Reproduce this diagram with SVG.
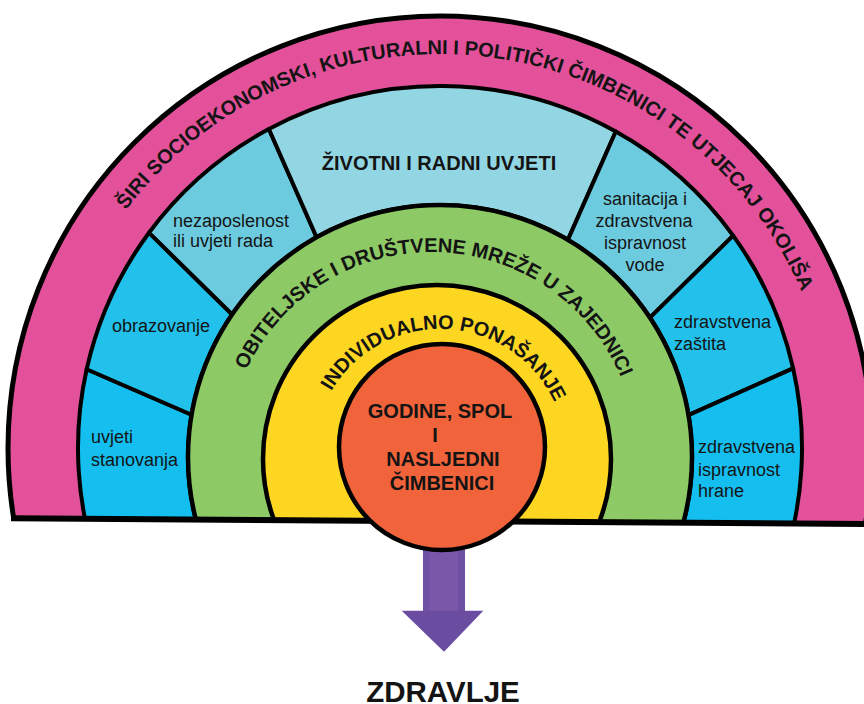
<svg xmlns="http://www.w3.org/2000/svg" width="864" height="704" viewBox="0 0 864 704">
<style>
text { font-family: "Liberation Sans", Arial, "DejaVu Sans", sans-serif; fill: #141414; }
.b { font-weight: bold; font-size: 20px; }
.s { font-size: 18px; }
.m { text-anchor: middle; }
.ring { stroke: #000; stroke-width: 4.5; }
.sec { stroke: #000; stroke-width: 4; stroke-linejoin: round; }
</style>
<defs>
<clipPath id="above"><polygon points="0,0 864,0 864,524 0,518"/></clipPath>
<path id="arcOuter" d="M46,448 A394,394 0 0 1 834,448"/>
<path id="arcGreen" d="M227,457 A205,205 0 0 1 637,457"/>
<path id="arcYellow" d="M314,455 A126,126 0 0 1 566,455"/>
</defs>
<rect width="864" height="704" fill="#fff"/>

<g id="ring-wider-factors" clip-path="url(#above)">
<circle cx="440" cy="448" r="432" fill="#E3519B" stroke="#000" stroke-width="5"/>
<text class="b m"><textPath href="#arcOuter" startOffset="665.7">ŠIRI SOCIOEKONOMSKI, KULTURALNI I POLITIČKI ČIMBENICI TE UTJECAJ OKOLIŠA</textPath></text>
</g>

<g id="sector-housing" clip-path="url(#above)">
<path class="sec" fill="#14BFF0" d="M86.66,369.27 A362,362 0 0 0 99.83,571.81 L203.2,543.19 A252,252 0 0 1 191.57,414.76 Z"/>
<text class="s" x="91" y="443">uvjeti</text>
<text class="s" x="91" y="466">stanovanja</text>
</g>
<g id="sector-education" clip-path="url(#above)">
<path class="sec" fill="#22C1EC" d="M148.99,232.69 A362,362 0 0 0 86.66,369.27 L191.57,414.76 A252,252 0 0 1 232.2,314.45 Z"/>
<text class="s" x="112" y="332">obrazovanje</text>
</g>
<g id="sector-unemployment" clip-path="url(#above)">
<path class="sec" fill="#6DCBDF" d="M268.89,128.99 A362,362 0 0 0 148.99,232.69 L232.2,314.45 A252,252 0 0 1 316.59,237.29 Z"/>
<text class="s" x="173" y="227">nezaposlenost</text>
<text class="s" x="173" y="247">ili uvjeti rada</text>
</g>
<g id="sector-living-working" clip-path="url(#above)">
<path class="sec" fill="#93D6E3" d="M615.78,131.54 A362,362 0 0 0 268.89,128.99 L316.59,237.29 A252,252 0 0 1 567.9,239.87 Z"/>
<text class="b m" x="439" y="170">ŽIVOTNI I RADNI UVJETI</text>
</g>
<g id="sector-sanitation" clip-path="url(#above)">
<path class="sec" fill="#6DCBDF" d="M733.14,235.61 A362,362 0 0 0 615.78,131.54 L567.9,239.87 A252,252 0 0 1 650,317.69 Z"/>
<text class="s m" x="645" y="205">sanitacija i</text>
<text class="s m" x="644" y="227">zdravstvena</text>
<text class="s m" x="645" y="249">ispravnost</text>
<text class="s m" x="645" y="271">vode</text>
</g>
<g id="sector-healthcare" clip-path="url(#above)">
<path class="sec" fill="#22C1EC" d="M793.14,368.41 A362,362 0 0 0 733.14,235.61 L650,317.69 A252,252 0 0 1 688.49,415.1 Z"/>
<text class="s" x="674" y="328">zdravstvena</text>
<text class="s" x="674" y="350">zaštita</text>
</g>
<g id="sector-food" clip-path="url(#above)">
<path class="sec" fill="#14BFF0" d="M780.17,571.81 A362,362 0 0 0 793.14,368.41 L688.49,415.1 A252,252 0 0 1 676.8,543.19 Z"/>
<text class="s" x="698" y="453">zdravstvena</text>
<text class="s" x="698" y="476">ispravnost</text>
<text class="s" x="698" y="497">hrane</text>
</g>

<g id="ring-social-networks" clip-path="url(#above)">
<circle class="ring" cx="440" cy="457" r="252" fill="#8DC965"/>
<text class="b m"><textPath href="#arcGreen" startOffset="325.6">OBITELJSKE I DRUŠTVENE MREŽE U ZAJEDNICI</textPath></text>
</g>

<g id="ring-individual-lifestyle" clip-path="url(#above)">
<circle class="ring" cx="437" cy="459" r="174" fill="#FDD622"/>
<text class="b m"><textPath href="#arcYellow" startOffset="204.1">INDIVIDUALNO PONAŠANJE</textPath></text>
</g>

<g id="baseline">
<line x1="11" y1="518.3" x2="864" y2="524" stroke="#000" stroke-width="6"/>
</g>

<g id="connectors">
<rect x="423" y="530" width="42" height="82" fill="#6F51A3"/>
<rect x="429" y="552" width="29" height="59" fill="#7A57A9"/>
<polygon points="401.7,610.7 483.3,610.7 444,651.7" fill="#6A4DA1"/>
</g>

<g id="core-age-sex-hereditary">
<circle cx="442" cy="447" r="103" fill="#F0633B" stroke="#000" stroke-width="4.5"/>
<text class="b m" x="440" y="418">GODINE, SPOL</text>
<text class="b m" x="435" y="442">I</text>
<text class="b m" x="443" y="466">NASLJEDNI</text>
<text class="b m" x="442" y="490">ČIMBENICI</text>
</g>

<g id="health">
<text x="443" y="702" text-anchor="middle" font-weight="bold" font-size="29.5">ZDRAVLJE</text>
</g>
</svg>
